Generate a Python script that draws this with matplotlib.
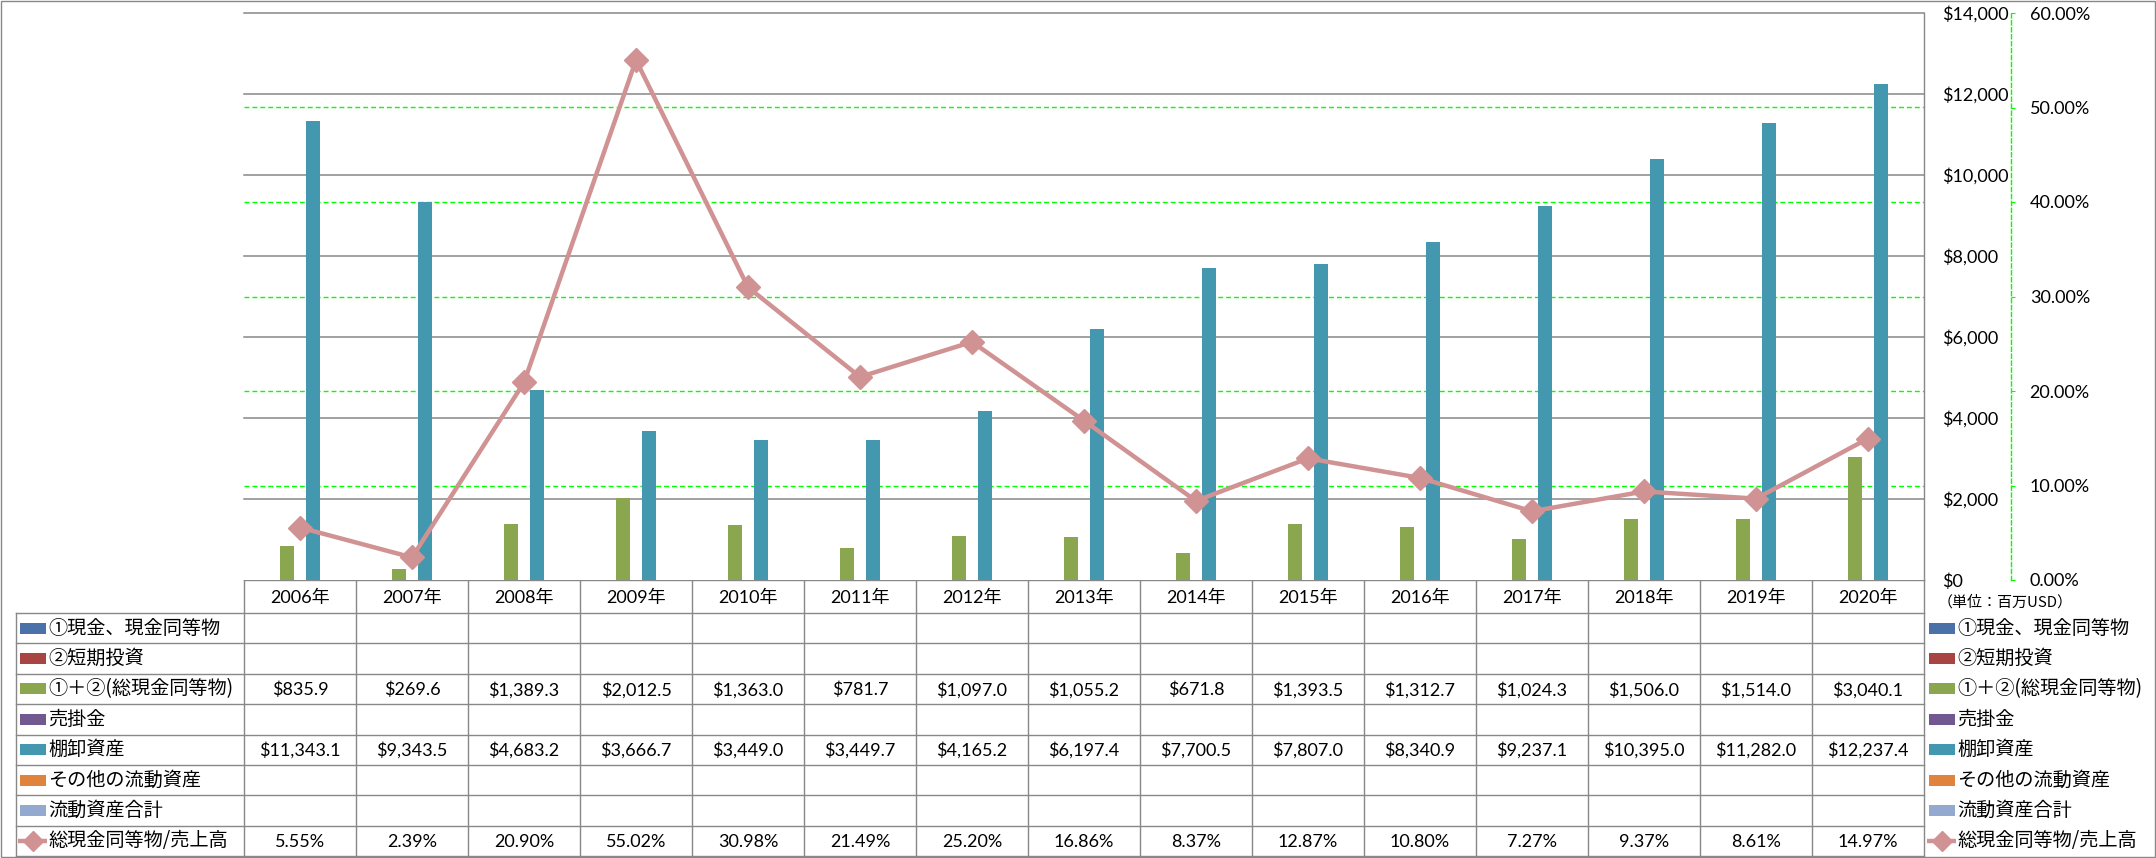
import numpy as np
import matplotlib
matplotlib.use('Agg')
import matplotlib.pyplot as plt
from matplotlib.patches import Rectangle
from matplotlib.ticker import FuncFormatter

rcParams = matplotlib.rcParams
rcParams['font.family'] = ['Lato', 'Noto Sans CJK JP', 'DejaVu Sans']

#%% Data
years = ['2006年', '2007年', '2008年', '2009年', '2010年', '2011年', '2012年', '2013年',
         '2014年', '2015年', '2016年', '2017年', '2018年', '2019年', '2020年']
cash_total = [835.9, 269.6, 1389.3, 2012.5, 1363.0, 781.7, 1097.0, 1055.2,
              671.8, 1393.5, 1312.7, 1024.3, 1506.0, 1514.0, 3040.1]
inventory = [11343.1, 9343.5, 4683.2, 3666.7, 3449.0, 3449.7, 4165.2, 6197.4,
             7700.5, 7807.0, 8340.9, 9237.1, 10395.0, 11282.0, 12237.4]
cash_ratio = [5.55, 2.39, 20.90, 55.02, 30.98, 21.49, 25.20, 16.86,
              8.37, 12.87, 10.80, 7.27, 9.37, 8.61, 14.97]

series_names = ['①現金、現金同等物', '②短期投資', '①＋②(総現金同等物)', '売掛金',
                '棚卸資産', 'その他の流動資産', '流動資産合計', '総現金同等物/売上高']
series_colors = ['#4A72A8', '#A84542', '#8AA64F', '#71588F',
                 '#4398B0', '#E0843D', '#93A9CF', '#D09292']
# table rows (None = empty row)
table_rows = [None, None, cash_total, None, inventory, None, None, cash_ratio]

GREEN = '#8AA64F'
TEAL = '#4398B0'
ROSE = '#D09292'
GRID = '#888888'
LIME = '#00FF00'

#%% Layout (pixels)
W, H = 2156, 858
PL, PR, PT, PB = 244, 1924, 13, 580
TL, TB = 16, 856
ROW0 = 613
ROWH = (TB - ROW0) / 8.0
COLW = (PR - PL) / 15.0

fig = plt.figure(figsize=(W / 100, H / 100), dpi=100)

#%% Chart
ax = fig.add_axes([PL / W, 1 - PB / H, (PR - PL) / W, (PB - PT) / H])
x = np.arange(len(years))
ax.bar(x - 0.118, cash_total, 0.125, color=GREEN, zorder=3)
ax.bar(x + 0.12, inventory, 0.125, color=TEAL, zorder=3)
ax.set_xlim(-0.5, len(years) - 0.5)
ax.set_ylim(0, 14000)
ax.set_xticks([])
for v in np.arange(2000, 14001, 2000):
    ax.axhline(v, color=GRID, lw=1.1, zorder=1, clip_on=False)
for p in [10, 20, 30, 40, 50]:
    ax.axhline(p / 60.0 * 14000, color=LIME, lw=1.0, ls=(0, (3.5, 2.2)), zorder=2)

ax2 = ax.twinx()
ax2.plot(x, cash_ratio, color=ROSE, lw=3.2, marker='D', ms=12, mfc=ROSE, mec=ROSE,
         zorder=5, solid_joinstyle='round')
ax2.set_ylim(0, 60)
ax2.set_yticks(np.arange(0, 61, 10))
ax2.yaxis.set_major_formatter(FuncFormatter(lambda v, p: '{:.2f}%'.format(v)))
for k in ['left', 'top', 'bottom']:
    ax2.spines[k].set_visible(False)
ax2.spines['right'].set_position(('outward', 62.6))
ax2.spines['right'].set_color(LIME)
ax2.spines['right'].set_linestyle((0, (3, 2)))
ax2.spines['right'].set_linewidth(1.0)
ax2.tick_params(axis='y', direction='out', length=3, color=LIME, pad=10.5, labelsize=13)

# $ axis labels sit right of the plot (twinx moves them left, so set after)
ax.set_yticks(np.arange(0, 14001, 2000))
ax.yaxis.tick_right()
ax.yaxis.set_major_formatter(FuncFormatter(lambda v, p: '${:,.0f}'.format(v)))
ax.tick_params(axis='y', length=0, pad=13.2, labelsize=13)
for k in ['left', 'top', 'bottom']:
    ax.spines[k].set_visible(False)
ax.spines['right'].set_color(GRID)
ax.spines['right'].set_linewidth(1.0)

#%% Data table (pixel coordinates)
tb = fig.add_axes([0, 0, 1, 1], zorder=-1)
tb.set_xlim(0, W)
tb.set_ylim(H, 0)
tb.axis('off')

# outer chart border
tb.add_patch(Rectangle((1, 1), W - 2.5, H - 2.5, fill=False, ec=GRID, lw=1.0))

# header row
tb.plot([PL, PR], [PB, PB], color=GRID, lw=1.0)
for i in range(16):
    xc = PL + i * COLW
    tb.plot([xc, xc], [PB, TB], color=GRID, lw=1.0)
for j in range(9):
    yr = ROW0 + j * ROWH
    tb.plot([TL, PR], [yr, yr], color=GRID, lw=1.0)
tb.plot([TL, TL], [ROW0, TB], color=GRID, lw=1.0)

for i, yl in enumerate(years):
    tb.text(PL + (i + 0.5) * COLW, (PB + ROW0) / 2 + 1, yl, ha='center', va='center',
            fontsize=13)


def legend_key(xl, yc, j):
    if j == len(series_names) - 1:
        tb.plot([xl - 2, xl + 27], [yc, yc], color=ROSE, lw=3.2, solid_capstyle='butt')
        tb.plot([xl + 12.5], [yc], marker='D', ms=10.5, color=ROSE, mec=ROSE)
    else:
        tb.add_patch(Rectangle((xl, yc - 5.5), 26, 11, color=series_colors[j], lw=0))


for j, name in enumerate(series_names):
    yc = ROW0 + (j + 0.5) * ROWH
    legend_key(20, yc, j)
    tb.text(48, yc, name, ha='left', va='center', fontsize=13.8,
            family=['Noto Sans CJK JP'])
    legend_key(1929, yc, j)
    tb.text(1957, yc, name, ha='left', va='center', fontsize=13.8,
            family=['Noto Sans CJK JP'])
    vals = table_rows[j]
    if vals is None:
        continue
    for i, v in enumerate(vals):
        if j == len(series_names) - 1:
            s = '{:.2f}%'.format(v)
        else:
            s = '${:,.1f}'.format(v)
        tb.text(PL + (i + 0.5) * COLW, yc + 1, s, ha='center', va='center', fontsize=13)

tb.text(1938, 602, '（単位：百万USD）', ha='left', va='center', fontsize=10.8,
        family=['Noto Sans CJK JP'])

fig.savefig('out.png', dpi=100)
